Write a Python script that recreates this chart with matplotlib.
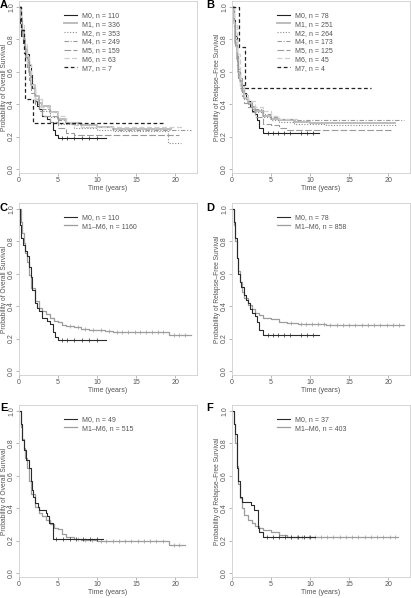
import numpy as np
import matplotlib
matplotlib.use("Agg")
import matplotlib.pyplot as plt

plt.rcParams["font.family"] = ["Liberation Sans", "DejaVu Sans"]

# ---- data ----
# overall survival, M0 n=110 (panels A and C)
os_m0_t = [0, 0.1, 0.3, 0.5, 0.8, 1.0, 1.3, 1.5, 1.7, 2.0, 2.3, 2.6, 3.0, 3.3, 3.6, 4.0, 4.3, 4.6, 5.0, 11.1]
os_m0_s = [1, 0.90, 0.82, 0.78, 0.74, 0.71, 0.64, 0.58, 0.50, 0.42, 0.39, 0.37, 0.33, 0.33, 0.31, 0.29, 0.24, 0.21, 0.19, 0.19]
os_m0_c = [5.5, 6.2, 7.0, 8.1, 9.0, 10.0]

os_m1_t = [0, 0.2, 0.4, 0.6, 0.8, 1.0, 1.3, 1.6, 2.0, 2.5, 3.0, 4.0, 5.0, 6.0, 8.0, 10.0, 12.0, 19.5]
os_m1_s = [1, 0.93, 0.86, 0.80, 0.74, 0.69, 0.60, 0.52, 0.45, 0.41, 0.39, 0.35, 0.31, 0.285, 0.27, 0.26, 0.245, 0.245]
os_m2_t = [0, 0.2, 0.4, 0.6, 0.8, 1.0, 1.3, 1.6, 2.0, 2.5, 3.0, 4.0, 5.0, 7.0, 10.0, 12.0, 19.1, 20.8]
os_m2_s = [1, 0.92, 0.84, 0.78, 0.72, 0.67, 0.58, 0.50, 0.42, 0.38, 0.36, 0.32, 0.28, 0.25, 0.24, 0.235, 0.16, 0.16]
os_m4_t = [0, 0.2, 0.4, 0.6, 0.8, 1.0, 1.3, 1.6, 2.0, 2.5, 3.0, 4.0, 5.0, 6.0, 8.0, 12.0, 22.0]
os_m4_s = [1, 0.92, 0.85, 0.78, 0.72, 0.66, 0.58, 0.50, 0.43, 0.39, 0.37, 0.33, 0.30, 0.28, 0.26, 0.24, 0.24]
os_m5_t = [0, 0.2, 0.4, 0.6, 0.8, 1.0, 1.3, 1.6, 2.0, 2.5, 3.0, 4.0, 5.0, 6.0, 7.0, 20.5]
os_m5_s = [1, 0.90, 0.82, 0.75, 0.69, 0.63, 0.55, 0.47, 0.40, 0.36, 0.33, 0.29, 0.25, 0.22, 0.21, 0.21]
os_m6_t = [0, 0.3, 0.6, 1.0, 1.5, 2.0, 3.0, 4.0, 5.0, 6.0, 7.0, 8.0, 21.0]
os_m6_s = [1, 0.89, 0.78, 0.65, 0.52, 0.43, 0.38, 0.35, 0.33, 0.29, 0.27, 0.26, 0.26]
os_m7_t = [0, 0.3, 0.7, 0.75, 1.8, 18.5]
os_m7_s = [1, 0.857, 0.714, 0.429, 0.286, 0.286]

os_m16_t = [0, 0.2, 0.4, 0.6, 0.8, 1.0, 1.3, 1.6, 2.0, 2.5, 3.0, 3.5, 4.0, 4.5, 5.0, 5.5, 6.0, 7.0, 8.0, 9.0, 10.0, 11.0, 12.0, 19.2, 22.0]
os_m16_s = [1, 0.92, 0.85, 0.79, 0.73, 0.67, 0.59, 0.51, 0.43, 0.39, 0.37, 0.35, 0.33, 0.31, 0.30, 0.285, 0.275, 0.27, 0.26, 0.255, 0.25, 0.245, 0.24, 0.225, 0.225]
os_m16_c = [6.5, 7.5, 8.5, 9.5, 10.5, 11.5, 12.5, 13.2, 14.0, 14.8, 15.5, 16.3, 17.0, 17.8, 18.5, 19.8, 20.5, 21.2]

# relapse-free survival, M0 n=78 (panels B and D)
rfs_m0_t = [0, 0.2, 0.4, 0.6, 0.8, 1.0, 1.2, 1.5, 1.8, 2.0, 2.3, 2.6, 2.9, 3.2, 3.5, 4.0, 11.1]
rfs_m0_s = [1, 0.92, 0.82, 0.70, 0.60, 0.55, 0.52, 0.47, 0.44, 0.42, 0.38, 0.36, 0.34, 0.30, 0.25, 0.225, 0.225]
rfs_m0_c = [4.6, 5.2, 5.9, 6.6, 7.4, 8.8, 9.6, 10.4]

rfs_m1_t = [0, 0.2, 0.4, 0.6, 0.8, 1.0, 1.3, 1.6, 2.0, 2.5, 3.0, 4.0, 5.0, 6.0, 8.0, 10.0, 20.9]
rfs_m1_s = [1, 0.90, 0.78, 0.68, 0.60, 0.54, 0.48, 0.44, 0.41, 0.38, 0.36, 0.33, 0.31, 0.30, 0.29, 0.285, 0.285]
rfs_m2_t = [0, 0.2, 0.4, 0.6, 0.8, 1.0, 1.3, 1.6, 2.0, 2.5, 3.0, 4.0, 5.0, 6.0, 8.0, 12.0, 21.0]
rfs_m2_s = [1, 0.88, 0.77, 0.66, 0.58, 0.52, 0.47, 0.43, 0.40, 0.37, 0.35, 0.32, 0.30, 0.29, 0.28, 0.27, 0.27]
rfs_m4_t = [0, 0.2, 0.4, 0.6, 0.8, 1.0, 1.3, 1.6, 2.0, 2.5, 3.0, 4.0, 5.0, 6.0, 8.0, 22.0]
rfs_m4_s = [1, 0.90, 0.80, 0.70, 0.62, 0.56, 0.50, 0.46, 0.42, 0.39, 0.37, 0.34, 0.32, 0.31, 0.30, 0.30]
rfs_m5_t = [0, 0.2, 0.4, 0.6, 0.8, 1.0, 1.3, 1.6, 2.0, 2.5, 3.0, 4.0, 5.0, 6.0, 7.0, 20.4]
rfs_m5_s = [1, 0.88, 0.76, 0.64, 0.56, 0.50, 0.45, 0.41, 0.38, 0.35, 0.32, 0.28, 0.27, 0.25, 0.24, 0.24]
rfs_m6_t = [0, 0.3, 0.6, 1.0, 1.5, 2.0, 3.0, 4.0, 5.0, 6.0, 8.5]
rfs_m6_s = [1, 0.89, 0.71, 0.51, 0.44, 0.42, 0.38, 0.36, 0.33, 0.31, 0.31]
rfs_m7_t = [0, 0.85, 1.7, 17.8]
rfs_m7_s = [1, 0.75, 0.50, 0.50]

rfs_m16_t = [0, 0.2, 0.4, 0.6, 0.8, 1.0, 1.3, 1.6, 2.0, 2.5, 3.0, 3.5, 4.0, 5.0, 6.0, 7.0, 8.5, 12.0, 22.0]
rfs_m16_s = [1, 0.90, 0.80, 0.70, 0.62, 0.55, 0.49, 0.45, 0.41, 0.38, 0.36, 0.345, 0.33, 0.32, 0.305, 0.295, 0.29, 0.285, 0.285]
rfs_m16_c = [7.5, 8.8, 9.5, 10.2, 11.0, 11.8, 12.6, 13.4, 14.2, 15.0, 15.8, 16.6, 17.4, 18.2, 19.0, 19.8, 20.6, 21.4]

# subgroup (panels E and F)
e_m0_t = [0, 0.2, 0.4, 0.7, 0.9, 1.3, 1.5, 1.7, 1.8, 2.1, 2.4, 2.6, 3.4, 3.6, 3.9, 4.3, 10.8]
e_m0_s = [1, 0.92, 0.82, 0.76, 0.70, 0.65, 0.57, 0.51, 0.47, 0.43, 0.41, 0.39, 0.37, 0.35, 0.31, 0.21, 0.21]
e_m0_c = [4.8, 5.6, 6.5, 7.3, 8.2, 9.1, 10.0]
e_m16_t = [0, 0.2, 0.4, 0.6, 0.8, 1.0, 1.3, 1.6, 2.0, 2.5, 3.0, 3.5, 4.0, 4.5, 5.0, 5.5, 6.0, 7.0, 8.0, 10.0, 19.2, 21.2]
e_m16_s = [1, 0.90, 0.83, 0.77, 0.71, 0.65, 0.57, 0.49, 0.41, 0.37, 0.35, 0.33, 0.30, 0.28, 0.27, 0.24, 0.225, 0.21, 0.205, 0.195, 0.17, 0.17]
e_m16_c = [7.5, 8.5, 9.3, 10.5, 11.2, 12.0, 12.8, 13.6, 14.4, 15.2, 16.0, 16.8, 17.6, 18.4, 19.8, 20.5]

f_m0_t = [0, 0.2, 0.4, 0.6, 0.7, 0.8, 1.0, 1.3, 2.4, 2.8, 3.3, 3.5, 4.0, 10.6]
f_m0_s = [1, 0.92, 0.86, 0.76, 0.65, 0.57, 0.47, 0.44, 0.42, 0.39, 0.28, 0.25, 0.22, 0.22]
f_m0_c = [4.5, 5.2, 6.0, 6.8, 7.6, 8.4, 9.2, 10.0]
f_m16_t = [0, 0.2, 0.4, 0.6, 0.8, 1.0, 1.3, 1.6, 2.0, 2.5, 3.0, 3.5, 4.0, 5.0, 6.0, 7.0, 21.2]
f_m16_s = [1, 0.92, 0.80, 0.66, 0.55, 0.46, 0.40, 0.36, 0.33, 0.31, 0.29, 0.275, 0.265, 0.25, 0.235, 0.225, 0.225]
f_m16_c = [7.5, 8.3, 9.0, 9.8, 10.6, 11.4, 12.2, 13.0, 13.8, 14.6, 15.4, 16.2, 17.0, 17.8, 18.6, 19.4, 20.2, 20.9]

labels_a = ["M0, n = 110", "M1, n = 336", "M2, n = 353", "M4, n = 249",
            "M5, n = 159", "M6, n = 63", "M7, n = 7"]
labels_b = ["M0, n = 78", "M1, n = 251", "M2, n = 264", "M4, n = 173",
            "M5, n = 125", "M6, n = 45", "M7, n = 4"]
labels_c = ["M0, n = 110", "M1\u2013M6, n = 1160"]
labels_d = ["M0, n = 78", "M1\u2013M6, n = 858"]
labels_e = ["M0, n = 49", "M1\u2013M6, n = 515"]
labels_f = ["M0, n = 37", "M1\u2013M6, n = 403"]

ylab_os = "Probability of Overall Survival"
ylab_rfs = "Probability of Relapse\u2013Free Survival"

# styles for the M0..M7 curves in A/B
styles7 = [
    dict(color="#222222", lw=0.8, ls="-"),
    dict(color="#bdbdbd", lw=1.4, ls="-"),
    dict(color="#8a8a8a", lw=0.8, ls=(0, (1, 1.5))),
    dict(color="#9a9a9a", lw=0.8, ls=(0, (4, 1.5, 1, 1.5))),
    dict(color="#9a9a9a", lw=0.8, ls=(0, (6, 2))),
    dict(color="#cfcfcf", lw=0.9, ls=(0, (4, 2))),
    dict(color="#222222", lw=0.9, ls=(0, (3, 2))),
]
style_m0 = dict(color="#2a2a2a", lw=0.8, ls="-")
style_m16 = dict(color="#9d9d9d", lw=0.9, ls="-")

TXT = "#555555"
W, H = 411, 598


def km(ax, t, s, cens=None, **st):
    t = np.asarray(t, float)
    s = np.asarray(s, float)
    line, = ax.step(t, s, where="post", **st)
    if cens:
        c = np.asarray(cens, float)
        y = s[np.searchsorted(t, c, side="right") - 1]
        ax.plot(c, y, ls="none", marker="|", ms=2.2, mew=0.5, color=st["color"])
    return line


def setup(ax, ylab):
    ax.set_xlim(0, 22.8)
    ax.set_ylim(-0.025, 1.037)
    for sp in ax.spines.values():
        sp.set_color("#cfcfcf")
        sp.set_linewidth(0.6)
    ax.set_xticks([0, 5, 10, 15, 20])
    ax.set_yticks([0.0, 0.2, 0.4, 0.6, 0.8, 1.0])
    ax.set_yticklabels(["0.0", "0.2", "0.4", "0.6", "0.8", "1.0"])
    ax.tick_params(length=2, width=0.5, color="#9a9a9a", labelsize=5,
                   labelcolor=TXT, pad=0.8)
    plt.setp(ax.get_yticklabels(), rotation=90, va="center")
    ax.set_xlabel("Time (years)", fontsize=5, color=TXT, labelpad=1)
    ax.set_ylabel(ylab, fontsize=4.8, color=TXT, labelpad=0.3)


def legend(ax, handles, labels):
    ax.legend(handles, labels, loc="upper left", bbox_to_anchor=(0.25, 0.935),
              frameon=False, fontsize=5, handlelength=2.0, handletextpad=0.7,
              labelspacing=0.25, borderpad=0, borderaxespad=0, labelcolor=TXT)


fig = plt.figure(figsize=(W / 100, H / 100), dpi=100)
colx = [19, 232]
rowy = [1, 203, 405]
aw, ah = 178, 172
axes = {}
for ri, y0 in enumerate(rowy):
    for ci, x0 in enumerate(colx):
        ax = fig.add_axes([x0 / W, 1 - (y0 + ah) / H, aw / W, ah / H])
        axes[(ri, ci)] = ax

# A
ax = axes[(0, 0)]
setup(ax, ylab_os)
curves = [(os_m0_t, os_m0_s, os_m0_c), (os_m1_t, os_m1_s, None), (os_m2_t, os_m2_s, None),
          (os_m4_t, os_m4_s, None), (os_m5_t, os_m5_s, None), (os_m6_t, os_m6_s, None),
          (os_m7_t, os_m7_s, None)]
hs = [km(ax, t, s, c, **st) for (t, s, c), st in zip(curves, styles7)]
legend(ax, hs, labels_a)

# B
ax = axes[(0, 1)]
setup(ax, ylab_rfs)
curves = [(rfs_m0_t, rfs_m0_s, rfs_m0_c), (rfs_m1_t, rfs_m1_s, None), (rfs_m2_t, rfs_m2_s, None),
          (rfs_m4_t, rfs_m4_s, None), (rfs_m5_t, rfs_m5_s, None), (rfs_m6_t, rfs_m6_s, None),
          (rfs_m7_t, rfs_m7_s, None)]
hs = [km(ax, t, s, c, **st) for (t, s, c), st in zip(curves, styles7)]
legend(ax, hs, labels_b)

# C-F
pairs = [
    ((1, 0), ylab_os, (os_m0_t, os_m0_s, os_m0_c), (os_m16_t, os_m16_s, os_m16_c), labels_c),
    ((1, 1), ylab_rfs, (rfs_m0_t, rfs_m0_s, rfs_m0_c), (rfs_m16_t, rfs_m16_s, rfs_m16_c), labels_d),
    ((2, 0), ylab_os, (e_m0_t, e_m0_s, e_m0_c), (e_m16_t, e_m16_s, e_m16_c), labels_e),
    ((2, 1), ylab_rfs, (f_m0_t, f_m0_s, f_m0_c), (f_m16_t, f_m16_s, f_m16_c), labels_f),
]
for key, ylab, m0, m16, labs in pairs:
    ax = axes[key]
    setup(ax, ylab)
    h2 = km(ax, *m16, **style_m16)
    h1 = km(ax, *m0, **style_m0)
    legend(ax, [h1, h2], labs)

# panel letters
for letter, (x, y) in zip("ABCDEF", [(0, 0), (206, 0), (0, 203), (206, 203), (0, 403), (206, 403)]):
    fig.text(x / W, 1 - y / H, letter, fontsize=8, fontweight="bold", color="black",
             ha="left", va="top")

fig.savefig("out.png", dpi=100)
